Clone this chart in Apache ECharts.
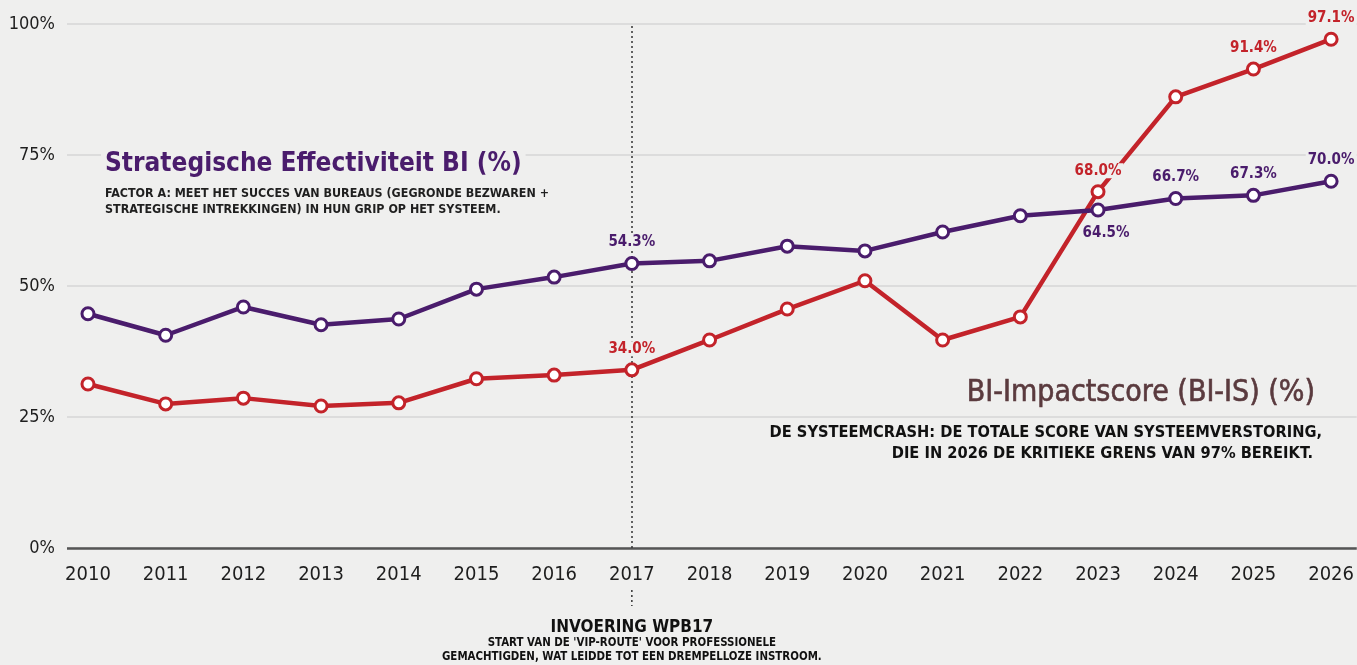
<!DOCTYPE html>
<html>
<head>
<meta charset="utf-8">
<script src="https://cdn.jsdelivr.net/npm/echarts@6/dist/echarts.min.js"></script>
<style>
  html, body { margin: 0; padding: 0; background: #efefee; }
  #chart { width: 1357px; height: 665px; }
</style>
</head>
<body>
<div id="chart"></div>
<script>
const years = [2010, 2011, 2012, 2013, 2014, 2015, 2016, 2017, 2018, 2019, 2020, 2021, 2022, 2023, 2024, 2025, 2026];
const effectiviteit = [44.7, 40.6, 46.0, 42.6, 43.7, 49.4, 51.7, 54.3, 54.8, 57.6, 56.7, 60.3, 63.4, 64.5, 66.7, 67.3, 70.0];
const impactscore = [31.3, 27.5, 28.6, 27.1, 27.7, 32.3, 33.0, 34.0, 39.7, 45.6, 51.0, 39.7, 44.1, 68.0, 86.1, 91.4, 97.1];
const effLabelYears = [2017, 2023, 2024, 2025, 2026];
const impLabelYears = [2017, 2023, 2025, 2026];
const yTicks = [0, 25, 50, 75, 100];

const BG = '#efefee';
const PURPLE = '#4a1c6c';
const RED = '#c3232a';
const FONT = '"Liberation Sans Narrow", "Arial Narrow", "DejaVu Sans Condensed", sans-serif';

function buildData(values, labelYears, below) {
  return years.map((yr, i) => {
    const item = { value: [yr, values[i]] };
    if (labelYears.includes(yr)) {
      item.label = { show: true };
      if (below && below.includes(yr)) {
        item.label.position = 'bottom';
        item.label.offset = [8, 2];
      }
    }
    return item;
  });
}

const chart = echarts.init(document.getElementById('chart'));

const labelStyle = (color) => ({
  show: false,
  position: 'top',
  distance: 6,
  color: color,
  fontFamily: FONT,
  fontWeight: 'bold',
  fontSize: 15,
  backgroundColor: BG,
  padding: [0, 2],
  formatter: (p) => p.value[1].toFixed(1) + '%',
});

chart.setOption({
  backgroundColor: BG,
  animation: false,
  grid: { left: 67, right: 0, top: 24, bottom: 117 },
  xAxis: {
    type: 'value',
    min: 2009.73,
    max: 2026.33,
    splitLine: { show: false },
    axisTick: { show: false },
    axisLine: { show: false },
    axisLabel: {
      customValues: years,
      formatter: (v) => String(v),
      color: '#1e1e1e',
      fontFamily: FONT,
      fontSize: 20,
      margin: 17,
    },
  },
  yAxis: {
    type: 'value',
    min: 0,
    max: 100,
    interval: 25,
    axisLine: { show: false },
    axisTick: { show: false },
    splitLine: {
      lineStyle: { color: '#d6d6d6', width: 1.5 },
    },
    axisLabel: {
      formatter: (v) => v + '%',
      color: '#1e1e1e',
      fontFamily: FONT,
      fontSize: 18,
      margin: 12,
    },
  },
  series: [
    {
      // 0% baseline
      type: 'line',
      silent: true,
      symbol: 'none',
      data: [],
      z: 1,
      markLine: {
        silent: true,
        symbol: 'none',
        label: { show: false },
        lineStyle: { color: '#555', width: 2.5, type: 'solid' },
        data: [{ yAxis: yTicks[0] }],
      },
    },
    {
      // WPB17 marker
      type: 'line',
      silent: true,
      symbol: 'none',
      data: [],
      z: 1,
      markLine: {
        silent: true,
        symbol: 'none',
        label: { show: false },
        lineStyle: { color: '#333', width: 1.5, type: [2, 3] },
        data: [{ xAxis: 2017 }],
      },
    },
    {
      name: 'BI-Impactscore (BI-IS) (%)',
      type: 'line',
      data: buildData(impactscore, impLabelYears),
      symbol: 'circle',
      symbolSize: 12,
      lineStyle: { color: RED, width: 4.5 },
      itemStyle: { color: '#ffffff', borderColor: RED, borderWidth: 3 },
      label: labelStyle(RED),
      z: 5,
    },
    {
      name: 'Strategische Effectiviteit BI (%)',
      type: 'line',
      data: buildData(effectiviteit, effLabelYears, [2023]),
      symbol: 'circle',
      symbolSize: 12,
      lineStyle: { color: PURPLE, width: 4.5 },
      itemStyle: { color: '#ffffff', borderColor: PURPLE, borderWidth: 3 },
      label: labelStyle(PURPLE),
      z: 6,
    },
  ],
});

const x2017 = chart.convertToPixel({ xAxisIndex: 0 }, 2017);

chart.setOption({
  graphic: [
    {
      type: 'text',
      left: 101,
      top: 149,
      style: {
        text: 'Strategische Effectiviteit BI (%)',
        font: 'bold 26px ' + FONT,
        fill: PURPLE,
        backgroundColor: BG,
        padding: [2, 4],
      },
    },
    {
      type: 'text',
      left: 105,
      top: 186,
      style: {
        text: 'FACTOR A: MEET HET SUCCES VAN BUREAUS (GEGRONDE BEZWAREN +\nSTRATEGISCHE INTREKKINGEN) IN HUN GRIP OP HET SYSTEEM.',
        font: 'bold 12.4px ' + FONT,
        lineHeight: 16,
        fill: '#1f1f1f',
      },
    },
    {
      type: 'text',
      right: 36,
      top: 376,
      style: {
        text: 'BI-Impactscore (BI-IS) (%)',
        font: '30px ' + FONT,
        fill: '#5a3a3e',
        stroke: '#5a3a3e',
        lineWidth: 0.6,
        backgroundColor: BG,
        padding: [2, 6],
      },
    },
    {
      type: 'text',
      right: 35,
      top: 425,
      style: {
        text: 'DE SYSTEEMCRASH: DE TOTALE SCORE VAN SYSTEEMVERSTORING,',
        font: 'bold 16.3px ' + FONT,
        fill: '#111',
      },
    },
    {
      type: 'text',
      right: 44,
      top: 446,
      style: {
        text: 'DIE IN 2026 DE KRITIEKE GRENS VAN 97% BEREIKT.',
        font: 'bold 16.3px ' + FONT,
        fill: '#111',
      },
    },
    {
      type: 'line',
      silent: true,
      shape: { x1: x2017, y1: 590, x2: x2017, y2: 606 },
      style: { stroke: '#333', lineWidth: 1.5, lineDash: [2, 3] },
    },
    {
      type: 'text',
      x: x2017,
      y: 619,
      style: {
        text: 'INVOERING WPB17',
        font: 'bold 17px ' + FONT,
        align: 'center',
        fill: '#111',
      },
    },
    {
      type: 'text',
      x: x2017,
      y: 638,
      style: {
        text: "START VAN DE 'VIP-ROUTE' VOOR PROFESSIONELE",
        font: 'bold 11.4px ' + FONT,
        align: 'center',
        fill: '#111',
      },
    },
    {
      type: 'text',
      x: x2017,
      y: 652,
      style: {
        text: 'GEMACHTIGDEN, WAT LEIDDE TOT EEN DREMPELLOZE INSTROOM.',
        font: 'bold 11.4px ' + FONT,
        align: 'center',
        fill: '#111',
      },
    },
  ],
});
</script>
</body>
</html>
